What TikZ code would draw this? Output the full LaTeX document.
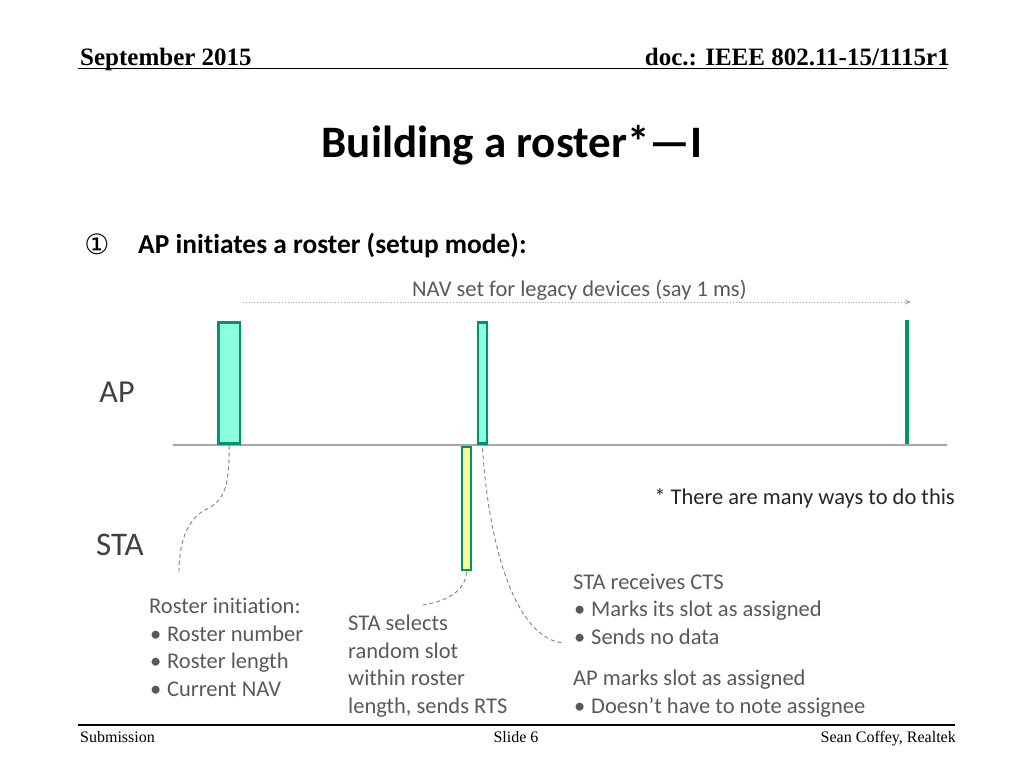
\documentclass[tikz,border=0pt]{standalone}
\usepackage{fontspec}
\setmainfont{Carlito}[Ligatures=NoCommon]
\newfontfamily\hdr{Liberation Serif}
\newfontfamily\sym{DejaVu Sans}
\usetikzlibrary{arrows.meta}
\definecolor{aqua}{HTML}{8CFFDE}
\definecolor{edge}{HTML}{00946A}
\definecolor{yel}{HTML}{FFFF9A}
\definecolor{txtgray}{HTML}{595959}
\definecolor{lblgray}{HTML}{404040}
\definecolor{axis}{HTML}{A6A6A6}
\definecolor{dash}{HTML}{808080}
\tikzset{
  apbox/.style={draw=edge, line width=2.5pt, fill=aqua, inner sep=0pt, outer sep=0pt},
  stabox/.style={draw=edge, line width=2.5pt, fill=yel, inner sep=0pt, outer sep=0pt},
  body/.style={anchor=base west, inner sep=0pt, text=txtgray, font=\fontsize{22.5}{27.5}\selectfont, align=left},
  hdrtxt/.style={inner sep=0pt, font=\hdr\bfseries\fontsize{25}{30}\selectfont},
  foot/.style={inner sep=0pt, font=\hdr\fontsize{16}{19}\selectfont, anchor=base},
  callout/.style={draw=dash, line width=0.9pt, dash pattern=on 4pt off 3pt},
}
\newcommand{\bul}{\hspace*{1pt}\makebox[17pt][l]{\textbullet}}
\begin{document}
\begin{tikzpicture}[x=1pt,y=-1pt]
\useasboundingbox (0,0) rectangle (1024,768);
% header
\node[hdrtxt, anchor=base west] (hdl) at (80,65) {September 2015};
\node[hdrtxt, anchor=base east] (hdr) at (950,65) {doc.: IEEE 802.11-15/1115r1};
\draw[line width=1.8pt] (78,68.5) -- (947,68.5);
% footer
\draw[line width=1.5pt] (78,725) -- (955,725);
\node[foot, anchor=base west] (f1) at (80,742) {Submission};
\node[foot] (f2) at (516,742) {Slide 6};
\node[foot, anchor=base east] (f3) at (956,742) {Sean Coffey, Realtek};
% title
\node[anchor=base, inner sep=0pt, font=\bfseries\fontsize{45}{54}\selectfont, text=black] (title) at (512,157) {Building a roster*—I};
\node[anchor=base, inner sep=0pt, font=\sym\fontsize{28}{32}\selectfont] (num) at (97,254) {①};
\node[anchor=base west, inner sep=0pt, font=\bfseries\fontsize{27.4}{32}\selectfont] (sub) at (138,253) {AP initiates a roster (setup mode):};
% NAV
\node[anchor=base west, inner sep=0pt, text=txtgray, font=\fontsize{22.5}{27}\selectfont] (nav) at (412,296) {NAV set for legacy devices (say 1 ms)};
\coordinate (navs) at (243,302);
\coordinate (nave) at (911,302);
\draw[draw=axis, line width=0.8pt, dotted, -{Stealth[length=6pt,width=5pt]}] (navs) -- (nave);
% axis
\coordinate (axl) at (173,445);
\coordinate (axr) at (947,445);
\draw[draw=axis, line width=1.5pt] (axl) -- (axr);
% boxes
\node[apbox, minimum width=21.5pt, minimum height=121pt] (ap1) at (229.2,383) {};
\node[apbox, minimum width=8.6pt, minimum height=121pt] (ap2) at (482.5,383) {};
\node[stabox, minimum width=8.6pt, minimum height=122.6pt] (sta1) at (466.5,508.5) {};
\coordinate (endt) at (907,320);
\coordinate (endb) at (907,444);
\draw[draw=edge, line width=3.5pt] (endt) -- (endb);
% labels
\node[anchor=base, inner sep=0pt, text=lblgray, font=\fontsize{32}{36}\selectfont] (aplbl) at (117,402) {AP};
\node[anchor=base, inner sep=0pt, text=lblgray, font=\fontsize{33}{38}\selectfont] (stalbl) at (120,555) {STA};
\node[anchor=base east, inner sep=0pt, text=black!85, font=\fontsize{22.5}{27}\selectfont] (note) at (955,504) {* There are many ways to do this};
% text blocks (base = last line)
\node[body] (t1) at (149,696) {Roster initiation:\\\bul Roster number\\\bul Roster length\\\bul Current NAV};
\node[body] (t2) at (348,713) {STA selects\\random slot\\within roster\\length, sends RTS};
\node[body] (t3) at (573,644) {STA receives CTS\\\bul Marks its slot as assigned\\\bul Sends no data};
\node[body] (t4) at (573,713) {AP marks slot as assigned\\\bul Doesn’t have to note assignee};
% callouts
\coordinate (c1) at (179,572);
\coordinate (c2) at (423,605);
\coordinate (c3) at (564,643);
\draw[callout] (ap1.south) ++(0,2) .. controls (229,485) and (226,500) .. (205,510) .. controls (186,520) and (179,545) .. (c1);
\draw[callout] (sta1.south) ++(0,2) .. controls (465,595) and (440,602) .. (c2);
\draw[callout] (ap2.south) ++(0,5) .. controls (490,560) and (520,640) .. (c3);
\end{tikzpicture}
\end{document}
